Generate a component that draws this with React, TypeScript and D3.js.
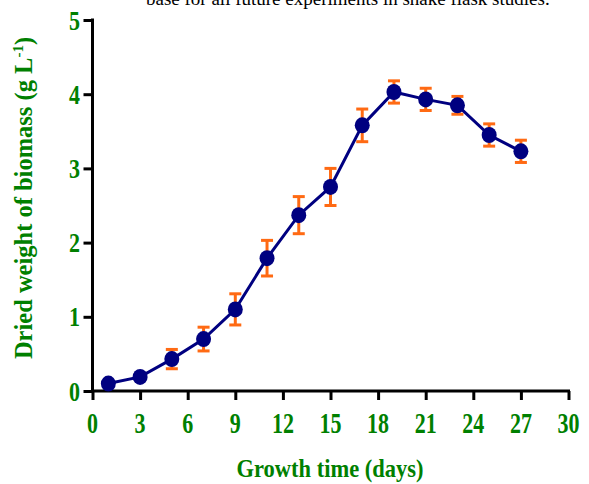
import React, { useEffect, useRef } from "react";
import * as d3 from "d3";

// growth curve readings
const days = [1, 3, 5, 7, 9, 11, 13, 15, 17, 19, 21, 23, 25, 27];
const biomass = [0.1, 0.19, 0.43, 0.7, 1.1, 1.79, 2.37, 2.75, 3.58, 4.03, 3.93, 3.85, 3.45, 3.23];
const sd = [0.02, 0.03, 0.13, 0.16, 0.21, 0.24, 0.25, 0.25, 0.22, 0.15, 0.15, 0.12, 0.15, 0.15];
const xTicks = [0, 3, 6, 9, 12, 15, 18, 21, 24, 27, 30];
const yTicks = [0, 1, 2, 3, 4, 5];

const W = 589;
const H = 484;

const App = () => {
  const ref = useRef<SVGSVGElement>(null);

  useEffect(() => {
    const svg = d3.select(ref.current);
    svg.selectAll("*").remove();

    const x = d3.scaleLinear().domain([0, 30]).range([92.5, 568.5]);
    const y = d3.scaleLinear().domain([0, 5]).range([391, 20]);
    const font = "'Times New Roman', 'Liberation Serif', serif";
    const green = "#008000";

    // clipped line of caption text from the page above
    svg
      .append("text")
      .attr("x", 146)
      .attr("y", 5)
      .attr("font-family", font)
      .attr("font-size", 19)
      .attr("fill", "#000")
      .text("base for all future experiments in shake flask studies.");

    const xAxis = svg
      .append("g")
      .attr("transform", `translate(0,${y(0)})`)
      .call(d3.axisBottom(x).tickValues(xTicks).tickSize(9).tickSizeOuter(0).tickFormat(() => ""));
    const yAxis = svg
      .append("g")
      .attr("transform", `translate(${x(0)},0)`)
      .call(d3.axisLeft(y).tickValues(yTicks).tickSize(9).tickSizeOuter(0).tickFormat(() => ""));

    [xAxis, yAxis].forEach((g) => {
      g.select(".domain").attr("stroke", "#000").attr("stroke-width", 3);
      g.selectAll(".tick line").attr("stroke", "#000").attr("stroke-width", 3);
    });
    xAxis.select(".domain").attr("d", `M${x(0) - 1.5},0H${x(30) + 1.5}`);
    yAxis.select(".domain").attr("d", `M0,${y(0) + 1.5}V${y(5) - 1.5}`);

    // tick labels (glyphs in the source are a bit tall, so stretch vertically)
    svg
      .append("g")
      .selectAll("text")
      .data(xTicks)
      .join("text")
      .attr("transform", (t) => `translate(${x(t)},423) scale(1,1.3)`)
      .attr("dy", "0.35em")
      .attr("text-anchor", "middle")
      .attr("font-family", font)
      .attr("font-weight", "bold")
      .attr("font-size", 22)
      .attr("fill", green)
      .text((t) => t);

    svg
      .append("g")
      .selectAll("text")
      .data(yTicks)
      .join("text")
      .attr("transform", (t) => `translate(80,${y(t)}) scale(1,1.25)`)
      .attr("dy", "0.35em")
      .attr("text-anchor", "end")
      .attr("font-family", font)
      .attr("font-weight", "bold")
      .attr("font-size", 22)
      .attr("fill", green)
      .text((t) => t);

    const pts = days.map((d, i) => ({ d, v: biomass[i], e: sd[i] }));

    // error bars
    const eb = svg.append("g").attr("stroke", "#FF6A13").attr("stroke-width", 3);
    pts.forEach((p) => {
      const cx = x(p.d);
      eb.append("line").attr("x1", cx).attr("x2", cx).attr("y1", y(p.v + p.e)).attr("y2", y(p.v - p.e));
      eb.append("line").attr("x1", cx - 6).attr("x2", cx + 6).attr("y1", y(p.v + p.e)).attr("y2", y(p.v + p.e));
      eb.append("line").attr("x1", cx - 6).attr("x2", cx + 6).attr("y1", y(p.v - p.e)).attr("y2", y(p.v - p.e));
    });

    const line = d3
      .line<{ d: number; v: number }>()
      .x((p) => x(p.d))
      .y((p) => y(p.v));
    svg
      .append("path")
      .datum(pts)
      .attr("d", line)
      .attr("fill", "none")
      .attr("stroke", "#000080")
      .attr("stroke-width", 3);

    svg
      .append("g")
      .selectAll("ellipse")
      .data(pts)
      .join("ellipse")
      .attr("cx", (p) => x(p.d))
      .attr("cy", (p) => y(p.v))
      .attr("rx", 7.5)
      .attr("ry", 8)
      .attr("fill", "#000080");

    svg
      .append("text")
      .attr("transform", "translate(330,477) scale(1,1.08)")
      .attr("text-anchor", "middle")
      .attr("font-family", font)
      .attr("font-weight", "bold")
      .attr("font-size", 22.5)
      .attr("fill", green)
      .text("Growth time (days)");

    const yt = svg
      .append("text")
      .attr("transform", "translate(32,198) rotate(-90)")
      .attr("text-anchor", "middle")
      .attr("font-family", font)
      .attr("font-weight", "bold")
      .attr("font-size", 24.5)
      .attr("fill", green);
    yt.append("tspan").text("Dried weight of biomass (g L");
    yt.append("tspan").attr("dy", -9).attr("font-size", 15).text("-1");
    yt.append("tspan").attr("dy", 9).text(")");
  }, []);

  return (
    <div style={{ position: "absolute", left: 0, top: 0 }}>
      <svg ref={ref} width={W} height={H} style={{ display: "block", background: "#fff" }}></svg>
    </div>
  );
};

export default App;
